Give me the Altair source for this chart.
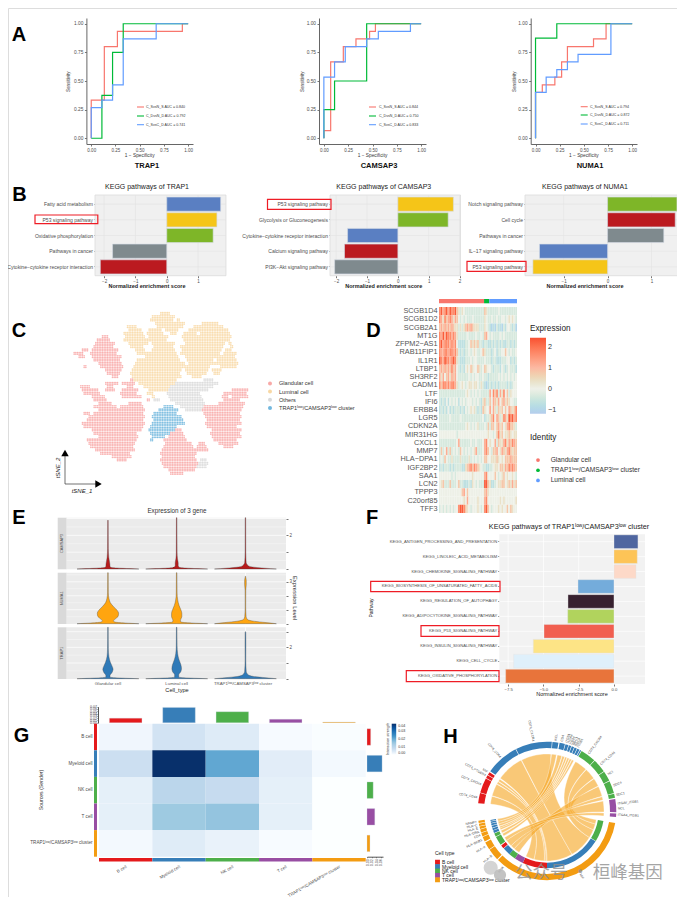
import math
import altair as alt
import pandas as pd

alt.data_transformers.disable_max_rows()

W, H = 669, 889
FONT = "Liberation Sans"
LOW = "TRAP1ˡᵒʷ/CAMSAP3ˡᵒʷ cluster"

# ---------- data ----------
ROC_COLORS = ["#f8766d", "#00ba38", "#619cff"]
ROC = {
    "TRAP1": {
        "C_SvsN_S": [(0,0),(0,.333),(.135,.333),(.135,.8),(.27,.8),(.27,.933),(.94,.933),(.94,1),(1,1)],
        "C_DvsN_D": [(0,0),(.11,0),(.11,.375),(.22,.375),(.22,.75),(.33,.75),(.33,1),(1,1)],
        "C_SvsC_D": [(0,0),(0,.267),(.11,.267),(.11,.333),(.22,.333),(.22,.467),(.33,.467),(.33,.867),(.67,.867),(.67,1),(1,1)],
    },
    "CAMSAP3": {
        "C_SvsN_S": [(0,0),(0,.067),(.07,.067),(.07,.667),(.2,.667),(.2,.8),(.33,.8),(.33,.867),(.47,.867),(.47,.933),(.53,.933),(.53,1),(1,1)],
        "C_DvsN_D": [(0,0),(0,.25),(.11,.25),(.11,.5),(.44,.5),(.44,1),(1,1)],
        "C_SvsC_D": [(0,0),(0,.533),(.11,.533),(.11,.667),(.22,.667),(.22,.8),(.44,.8),(.44,.867),(.56,.867),(.56,.933),(.89,.933),(.89,1),(1,1)],
    },
    "NUMA1": {
        "C_SvsN_S": [(0,0),(0,.4),(.07,.4),(.07,.467),(.2,.467),(.2,.533),(.27,.533),(.27,.667),(.33,.667),(.33,.8),(.6,.8),(.6,.867),(.73,.867),(.73,1),(1,1)],
        "C_DvsN_D": [(0,0),(0,.875),(.22,.875),(.22,1),(1,1)],
        "C_SvsC_D": [(0,0),(0,.4),(.11,.4),(.11,.533),(.22,.533),(.22,.6),(.33,.6),(.33,.667),(.44,.667),(.44,.733),(.78,.733),(.78,1),(1,1)],
    },
}
ROC_AUC = {"TRAP1": ["0.840", "0.792", "0.741"], "CAMSAP3": ["0.844", "0.750", "0.833"], "NUMA1": ["0.794", "0.872", "0.711"]}
ROC_BOX = {"TRAP1": (86.4, 193, 147, 69.3, 137, 146, [107, 116, 124.7]),
           "CAMSAP3": (319, 426, 379, 302.6, 369, 379, [107, 116, 124.7]),
           "NUMA1": (530.7, 637, 590, 514.5, 580.7, 590, [106.7, 115, 124])}

BC = {"blue": "#5a7fc2", "yellow": "#f5c518", "green": "#7eb628", "grey": "#7f8a8e", "red": "#bb1a20"}
KEGG_B = [
    ("KEGG pathways of TRAP1", 95, 226, [-2.29, 1.89], [-2, -1, 0, 1], 147,
     ["Fatty acid metabolism", "P53 signaling pathway", "Oxidative phosphorylation", "Pathways in cancer", "Cytokine−cytokine receptor interaction"],
     [1.72, 1.6, 1.48, -1.73, -2.12], ["blue", "yellow", "green", "grey", "red"], (35, 97.8, 215, 223.7)),
    ("KEGG pathways of CAMSAP3", 330, 460.5, [-2.2, 2.03], [-2, -1, 0, 1, 2], 383.8,
     ["P53 signaling pathway", "Glycolysis or Gluconeogenesis", "Cytokine−cytokine receptor interaction", "Calcium signaling pathway", "PI3K−Akt signaling pathway"],
     [1.8, 1.63, -1.63, -1.73, -2.05], ["yellow", "green", "blue", "red", "grey"], (267.5, 331, 199.3, 209.3)),
    ("KEGG pathways of NUMA1", 525, 684, [-1.88, 1.74], [-1, 0, 1], 585,
     ["Notch signaling pathway", "Cell cycle", "Pathways in cancer", "IL−17 signaling pathway", "P53 signaling pathway"],
     [1.58, 1.54, 1.28, -1.55, -1.7], ["green", "red", "grey", "blue", "yellow"], (467, 526, 261.3, 271.3)),
]

# tSNE occupancy: row -> column spans, per cluster
TSNE_COLORS = {"G": "#f8a9a7", "L": "#f8d8a4", "O": "#d9d9d9", "T": "#72b8de"}
TSNE = {
    "L": {2:[(27,29)],3:[(24,30)],4:[(24,30),(32,32)],5:[(25,33),(39,43)],6:[(17,19),(26,33),(37,45)],
          7:[(17,20),(23,26),(28,31),(35,46)],8:[(16,21),(23,27),(30,31),(34,37),(39,47)],
          9:[(16,21),(23,28),(33,47)],10:[(16,28),(34,47)],11:[(17,22),(24,30),(34,45),(47,47)],
          12:[(18,21),(25,30),(33,45),(48,48)],13:[(19,21),(24,30),(33,44),(46,47)],14:[(20,31),(33,44),(46,49)],
          15:[(22,31),(34,48)],16:[(20,32),(35,42),(44,49)],17:[(19,33),(35,44),(45,49)],18:[(19,33),(34,41),(45,49)],
          19:[(18,32),(34,40),(42,44)],20:[(18,32),(35,40),(43,44)],21:[(18,32),(36,38)],22:[(19,31)],
          23:[(20,30)],24:[(22,29)],25:[(23,28)],26:[(23,24)],27:[(24,24)]},
    "G": {9:[(9,10)],10:[(8,11)],11:[(7,12)],12:[(7,12)],13:[(3,4),(6,13)],14:[(1,3),(6,13)],15:[(2,3),(6,14)],
          16:[(7,14)],17:[(8,14)],18:[(4,4),(9,15)],19:[(10,14)],20:[(11,14)],21:[(12,13)],22:[(18,18)],
          23:[(10,13),(15,18)],24:[(3,5),(11,12),(17,18)],25:[(3,7),(10,12),(15,19),(48,52)],
          26:[(4,8),(15,19),(46,52)],27:[(6,9),(15,20),(45,46),(48,52)],28:[(7,10),(23,23),(46,50)],
          29:[(8,11),(17,20),(44,51)],30:[(7,13),(15,21),(40,51)],31:[(8,21),(39,50)],32:[(4,5),(7,21),(40,50)],
          33:[(5,21),(40,50)],34:[(5,21),(41,50)],35:[(3,21),(40,50)],36:[(4,21),(41,49)],37:[(6,20),(31,32),(42,50)],
          38:[(7,19),(30,33),(42,50)],39:[(8,19),(29,33),(42,50)],40:[(5,19),(28,34),(43,49)],
          41:[(5,18),(28,35),(38,39),(44,49)],42:[(6,18),(28,36),(38,40),(46,48)],43:[(7,18),(27,37),(38,40)],
          44:[(9,17),(27,37)],45:[(12,17),(27,36)],46:[(14,16),(27,37)],47:[(27,37)],48:[(28,37)],49:[(29,36)],50:[(30,33)]},
    "O": {22:[(40,42)],23:[(31,43)],24:[(30,42)],25:[(29,40)],26:[(29,38)],27:[(29,38)],28:[(25,26),(30,39)],
          29:[(31,39)],30:[(33,39)],31:[(34,38)],46:[(39,40)],47:[(38,40)],48:[(38,40)]},
    "T": {30:[(28,30)],31:[(26,31)],32:[(25,31)],33:[(24,32)],34:[(25,33)],35:[(24,33)],36:[(24,31)],37:[(23,30)],
          38:[(24,29)],39:[(24,27)],40:[(24,24)]},
}
TSNE_LEGEND = ["Glandular cell", "Luminal cell", "Others", LOW]

# heat map: one digit per column, levels in HEAT_LEVELS
HEAT_LEVELS = [-1.2, -1.0, -0.7, -0.35, -0.02, 0.35, 0.8, 1.2, 1.7, 2.3]
HEAT = {
    "SCGB1D4":  "8978979889 65354 33333333333 653 3333343333333333",
    "SCGB1D2":  "8758678757 64343 43334333333 543 3433433443454543",
    "SCGB2A1":  "6767676765 53535 67676555333 543 2121322132443231",
    "MT1G":     "8797988787 53333 34333343343 674 3433334343333333",
    "ZFPM2−AS1":"8978887878 42222 33465656332 332 2323232322332323",
    "RAB11FIP1":"8778878878 63232 33434543346 533 3234233446434334",
    "IL1R1":    "9879887898 53222 33343443333 433 3233222333442323",
    "LTBP1":    "6767676867 43232 45465446534 654 4323332432343332",
    "SH3RF2":   "7574675767 43333 33434344334 332 3333343434343434",
    "CADM1":    "8688787887 53454 34554554353 212 3232323333232344",
    "LTF":      "3333333333 33333 45434343433 333 7486837584635444",
    "IFI6":     "3232424343 42434 34443434325 633 6476574675654433",
    "ERBB4":    "2323242323 33232 43454532326 544 7475365646476568",
    "LGR5":     "3333334333 33433 33333333334 233 5684763587598978",
    "CDKN2A":   "3333333333 33333 45434345333 436 3664675645786653",
    "MIR31HG":  "4444444444 34444 44444444444 445 4434685645565455",
    "CXCL1":    "3333333333 47333 33343343334 784 5447365578576876",
    "MMP7":     "3634736343 43643 43434573334 786 4366745765786566",
    "HLA−DPA1": "3436433533 33533 33534343434 664 4555654546667666",
    "IGF2BP2":  "2323332323 33322 56786876543 322 3345546657687876",
    "SAA1":     "4444444343 44444 44445444444 784 4446434564544543",
    "LCN2":     "4563336333 46332 22325434333 996 5223455664565756",
    "TPPP3":    "4444444444 44467 46444444444 675 4444444444444444",
    "C20orf85": "4444444444 44445 47444445444 784 4444445454444445",
    "TFF3":     "3434343434 48998 65434445434 896 4344454544646544",
}
IDENTITY = ["Glandular cell", LOW, "Luminal cell"]
IDENTITY_COLORS = ["#f8766d", "#00ba38", "#619cff"]
IDENTITY_COUNTS = [(0, 26), (26, 29), (29, 45)]

# violins: (level, half width)
VIOLINS = {
    "CAMSAP3": {"color": "#b71c1c", "box": (517.7, 569.3), "dom": [0, 3.05], "ticks": [0, 1, 2, 3], "lab": 2, "v": [
        [(0,.45),(.04,.22),(.09,.05),(.15,.03),(.3,.028),(.45,.022),(.7,.012),(1.2,.006),(2.9,.004)],
        [(0,.45),(.04,.2),(.1,.04),(.2,.022),(.35,.022),(.6,.012),(1.0,.006),(3.05,.004)],
        [(0,.45),(.05,.28),(.12,.1),(.2,.04),(.4,.01),(1,.005),(3.05,.004)]]},
    "NUMA1": {"color": "#ffa50f", "box": (572.7, 624), "dom": [0, 3.65], "ticks": [0, 1, 2, 3], "lab": 3, "v": [
        [(0,.45),(.05,.25),(.12,.1),(.2,.08),(.35,.11),(.55,.15),(.75,.155),(.95,.135),(1.2,.085),(1.5,.035),(1.8,.015),(2.2,.006),(3.65,.004)],
        [(0,.45),(.05,.22),(.12,.06),(.25,.055),(.5,.075),(.75,.075),(1,.06),(1.3,.035),(1.7,.015),(2.2,.006),(3.65,.004)],
        [(0,.45),(.08,.3),(.18,.12),(.3,.03),(.5,.01),(1.2,.004),(2.4,.005),(2.8,.012),(3.1,.012),(3.3,.005),(3.4,.002)]]},
    "TRAP1": {"color": "#2f7ab8", "box": (627.3, 679), "dom": [0, 3.28], "ticks": [0, 1, 2, 3], "lab": 2, "v": [
        [(0,.45),(.04,.2),(.1,.03),(.2,.03),(.4,.06),(.6,.075),(.8,.06),(1.05,.035),(1.4,.014),(1.9,.006),(3.28,.004)],
        [(0,.45),(.04,.2),(.1,.03),(.25,.03),(.45,.06),(.65,.07),(.9,.06),(1.2,.035),(1.6,.014),(2.1,.006),(3.28,.004)],
        [(0,.45),(.06,.3),(.14,.12),(.25,.04),(.45,.012),(1.2,.005),(2.2,.006),(2.95,.005),(3.0,.002)]]},
}

F_PATH = ["KEGG_ANTIGEN_PROCESSING_AND_PRESENTATION", "KEGG_LINOLEIC_ACID_METABOLISM", "KEGG_CHEMOKINE_SIGNALING_PATHWAY",
          "KEGG_BIOSYNTHESIS_OF_UNSATURATED_FATTY_ACIDS", "KEGG_REGULATION_OF_AUTOPHAGY", "KEGG_ADIPOCYTOKINE_SIGNALING_PATHWAY",
          "KEGG_P53_SIGNALING_PATHWAY", "KEGG_INSULIN_SIGNALING_PATHWAY", "KEGG_CELL_CYCLE", "KEGG_OXIDATIVE_PHOSPHORYLATION"]
F_NES = [1.70, 1.65, 1.56, -2.55, -3.26, -3.28, -4.96, -5.72, -7.11, -7.68]
F_COL = ["#4f66a0", "#fdc457", "#fdd9c8", "#74acdb", "#37212f", "#b1d35d", "#f15f50", "#fde486", "#dff0fb", "#e8743b"]
F_BOX = [(370.7, 500, 581.3, 591.7), (421, 499, 625.7, 636.3), (406.3, 499, 670.7, 681.7)]

CELLS = ["B cell", "Myeloid cell", "NK cell", "T cell", LOW]
CELL_COL = ["#e41a1c", "#377eb8", "#4daf4a", "#984ea3", "#f39c12"]
STRENGTH = [[.0015, .006, .004, .0007, .0003],
            [.007, .04, .021, .0035, .001],
            [.003, .010, .008, .003, 0],
            [.003, .015, .016, .003, 0],
            [.001, .0038, .0025, .0005, 0]]
TOP_BARS = [.02, .067, .048, .015, .003]
RIGHT_BARS = [.016, .066, .027, .034, .013]
BLUE_STOPS = [0, .0005, .004, .008, .015, .02, .024, .03, .035, .04]
BLUE_COLS = ["#ffffff", "#f7fbff", "#deebf7", "#c6dbef", "#9ecae1", "#6baed6", "#4292c6", "#2171b5", "#08519c", "#08306b"]

# chord diagram, degrees clockwise from 12 o'clock
RING_OUT = [(276.5,285,0),(285.5,298,0),(298.5,301,0),(301.5,304,0),
            (305,333,1),(333.5,364,1),(364.5,369.5,1),(370.5,375,1),(375.5,378,1),(378.5,380.5,1),(381,383,1),(383.5,385.5,1),(386,388,1),(388.5,389.5,1),
            (30,43,2),(43.5,55,2),(55.5,64,2),(64.5,75,2),(75.5,79,2),(80,91,3),(92,95,3),
            (100,225,4),(226,236,4),(236.5,243,4),(244,248,4),(248.5,251.5,4),(252,254.5,4),(255,257,4),(257.5,259.5,4),(260,262,4)]
RING_IN = [(100,121.5,2),(122,180,1),(180,205,0),(205,214,3),(214,221,2),(221,229,1),(229.5,233,0),(234,243,2),(243.5,247,2),
           (247.5,250,1),(250.5,252.5,1),(253,255,1),(255.5,257.5,1),(258,259.5,1),(260,261,1)]
CHORDS = [(277,285,195,205),(285.5,298,183,195),(298.5,301,181,183),(301.5,304,180,181),(305,333,150,180),(333.5,364,122,150),
          (364.5,369.5,258,261),(370.5,375,255,258),(375.5,378,252.5,255),(378.5,380.5,250,252),(381,383,248,250),(383.5,385.5,244,247),(386,388,240,243),
          (30,43,112,122),(43.5,55,105,112),(55.5,64,100,105),(64.5,75,214,221),(75.5,79,221,226),(80,91,226,234),(92,95,234,238)]
H_LABELS = [(281,"CD74_CD44"),(292,"CD74_CXCR4"),(300,"CD74_PTGER4"),(303,"MIF"),(319,"CD74_CD44"),(349,"CD74_CXCR4"),(7,"NCL"),(12,"CD4"),
            (16,"ITGB1"),(18,"ITGA4"),(20,"CD44"),(22,"SDC1"),(24,"SDC4"),(26,"ITGB1"),(36,"CD74_CXCR4"),(49,"CD74_CD44"),(59,"NCL"),(69,"SDC4"),(77,"SDC1"),
            (84,"ITGAV_ITGB1"),(88,"NCL"),(93,"ITGA4_ITGB1"),(152,"MIF"),(218,"MDK"),(231,"HLA−B"),(240,"HLA−A"),(246,"HLA−DRB1"),(250,"CD4"),
            (253,"HLA−DRA"),(256,"HLA−E"),(258.5,"HLA−C"),(261,"NAMPT")]

# ---------- helpers (all positions in picture pixels; the page margin is taken off here) ----------
def px(v):
    return v - 8

def lin(dom, a, b):
    return alt.Scale(domain=dom, range=[px(a), px(b)], nice=False, zero=False)

def band(dom, a, b, inner=0.0, outer=0.0):
    return alt.Scale(type="band", domain=dom, range=[px(a), px(b)], paddingInner=inner, paddingOuter=outer)

def ax_left(x, **k):
    o = dict(orient="left", offset=-px(x), title=None, grid=False, labelFontSize=5, labelColor="#4d4d4d", tickSize=2, tickColor="#777", domain=False, labelPadding=1.5, labelOverlap=False, labelFlush=False)
    o.update(k); return alt.Axis(**o)

def ax_bottom(y, **k):
    o = dict(orient="bottom", offset=px(y) - H, title=None, grid=False, labelFontSize=4.5, labelColor="#4d4d4d", tickSize=2, tickColor="#777", domain=False, labelPadding=1, labelOverlap=False, labelFlush=False)
    o.update(k); return alt.Axis(**o)

def ax_right(x, **k):
    o = dict(orient="right", offset=px(x) - W, title=None, grid=False, labelFontSize=5, labelColor="#4d4d4d", tickSize=2, tickColor="#777", domain=False, labelPadding=1, labelOverlap=False, labelFlush=False)
    o.update(k); return alt.Axis(**o)

ONE = pd.DataFrame({"k": [0]})

def T(s, x, y, size=5, align="center", angle=0, color="#333333", weight="normal", style="normal", font=FONT, opacity=1):
    return alt.Chart(pd.DataFrame({"t": [s]})).mark_text(
        fontSize=size, align=align, baseline="middle", angle=angle % 360, color=color, fontWeight=weight,
        fontStyle=style, font=font, opacity=opacity
    ).encode(x=alt.value(px(x)), y=alt.value(px(y)), text="t:N")

def box(x0, x1, y0, y1, fill=None, stroke=None, sw=1.0):
    kw = {"strokeWidth": sw}
    kw["fill"] = fill if fill else "transparent"
    if stroke:
        kw["stroke"] = stroke
    return alt.Chart(ONE).mark_rect(**kw).encode(x=alt.value(px(x0)), x2=alt.value(px(x1)), y=alt.value(px(y0)), y2=alt.value(px(y1)))

def seg(x0, y0, x1, y1, color="#333", w=1.0):
    return alt.Chart(ONE).mark_rule(color=color, strokeWidth=w).encode(x=alt.value(px(x0)), x2=alt.value(px(x1)), y=alt.value(px(y0)), y2=alt.value(px(y1)))

def sym(x, y, shape, size, color):
    return alt.Chart(ONE).mark_point(shape=shape, size=size, filled=True, color=color, opacity=1).encode(x=alt.value(px(x)), y=alt.value(px(y)))

def key(items, colors, x_dot, x_text, y0, y1, fsize, dot, shape="circle", tcolor="#333333"):
    df = pd.DataFrame({"c": items})
    ys = alt.Scale(type="point", domain=items, range=[px(y0), px(y1)])
    dots = alt.Chart(df).mark_point(shape=shape, filled=True, size=dot, opacity=1).encode(
        x=alt.value(px(x_dot)), y=alt.Y("c:N", scale=ys, axis=None),
        color=alt.Color("c:N", scale=alt.Scale(domain=items, range=colors), legend=None))
    txt = alt.Chart(df).mark_text(fontSize=fsize, align="left", baseline="middle", color=tcolor, font=FONT).encode(
        x=alt.value(px(x_text)), y=alt.Y("c:N", scale=ys, axis=None), text="c:N")
    return [dots, txt]

layers = []

# ---------- A ----------
for gene, (xl, xr, tc, yl, lx, tx, ly) in ROC_BOX.items():
    rows = []
    for s, pts in ROC[gene].items():
        for i, (a, b) in enumerate(pts):
            rows.append({"s": s, "i": i, "x": a, "y": b})
    xs = lin([-0.05, 1.05], xl, xr)
    ys = lin([-0.05, 1.05], 144, 18)
    line = alt.Chart(pd.DataFrame(rows)).mark_line(strokeWidth=1.2, clip=False).encode(
        x=alt.X("x:Q", scale=xs, axis=ax_bottom(144, values=[0, .25, .5, .75, 1], format=".2f", domain=True, domainColor="#666")),
        y=alt.Y("y:Q", scale=ys, axis=ax_left(xl, values=[0, .25, .5, .75, 1], format=".2f", domain=True, domainColor="#666", labelFontSize=4.8)),
        color=alt.Color("s:N", scale=alt.Scale(domain=list(ROC[gene]), range=ROC_COLORS), legend=None),
        order=alt.Order("i:Q"))
    layers.append(line)
    layers.append(T("Sensitivity", yl, 81.7, 4.6, angle=-90))
    layers.append(T("1 − Specificity", (xl + xr) / 2, 156, 4.8))
    layers.append(T(gene, tc, 166, 7.5, weight="bold", color="#111"))
    for c, y, s, auc in zip(ROC_COLORS, ly, ROC[gene], ROC_AUC[gene]):
        layers.append(seg(lx, y, lx + 7, y, c, 1.1))
        layers.append(T(f"{s} AUC = {auc}", tx, y, 3.6, align="left"))

# ---------- B ----------
for title, xl, xr, dom, ticks, tc, cats, vals, cols, rb in KEGG_B:
    df = pd.DataFrame({"c": cats, "v": vals, "col": cols})
    xs = lin(dom, xl, xr)
    ys = band(cats, 196.3, 274.7, inner=0.1, outer=0.05)
    layers.append(box(xl, xr, 195, 275.7, fill="#f0f0f0", stroke="#d9d9d9", sw=0.7))
    grid_x = alt.Chart(pd.DataFrame({"t": ticks})).mark_rule(color="#e3e3e3", strokeWidth=0.6).encode(
        x=alt.X("t:Q", scale=xs, axis=None), y=alt.value(px(195)), y2=alt.value(px(275.7)))
    grid_y = alt.Chart(df).mark_rule(color="#e3e3e3", strokeWidth=0.6).encode(
        y=alt.Y("c:N", scale=ys, axis=None), x=alt.value(px(xl)), x2=alt.value(px(xr)))
    bars = alt.Chart(df).mark_bar(stroke="#d5dbe5", strokeWidth=0.6).encode(
        x=alt.X("v:Q", scale=xs, stack=None, axis=ax_bottom(275.7, values=ticks, format="d")),
        y=alt.Y("c:N", scale=ys, sort=None, axis=ax_left(xl, labelFontSize=5.05, tickSize=1)),
        color=alt.Color("col:N", scale=alt.Scale(domain=list(BC), range=list(BC.values())), legend=None))
    layers.extend([grid_x, grid_y, bars])
    layers.append(T(title, tc, 187, 7, color="#222"))
    layers.append(T("Normalized enrichment score", tc, 286, 5.5, color="#222", weight="bold"))
    layers.append(box(rb[0], rb[1], rb[2], rb[3], stroke="#ee1c25", sw=1.2))

# ---------- C ----------
rows = []
for cl, d in TSNE.items():
    for r, spans in d.items():
        for a, b in spans:
            for c in range(a, b + 1):
                for dc, dr in ((.25, .25), (.75, .25), (.25, .75), (.75, .75)):
                    rows.append({"cl": cl, "c": c + dc + (0.5 if r % 2 else 0), "r": r + dr})
layers.append(alt.Chart(pd.DataFrame(rows)).mark_circle(size=2.6, opacity=0.9).encode(
    x=alt.X("c:Q", scale=lin([0, 54], 70, 250), axis=None),
    y=alt.Y("r:Q", scale=lin([0, 55], 305, 488.3), axis=None),
    color=alt.Color("cl:N", scale=alt.Scale(domain=list(TSNE_COLORS), range=list(TSNE_COLORS.values())), legend=None)))
layers.append(seg(65, 455, 65, 484, "#333", 0.7))
layers.append(seg(65, 484, 96, 484, "#333", 0.7))
layers.append(sym(65, 453, "triangle-up", 55, "#000"))
layers.append(sym(98.5, 484, "triangle-right", 55, "#000"))
layers.append(T("tSNE_1", 82, 490.7, 6, style="italic", color="#222"))
layers.append(T("tSNE_2", 58, 468, 6, angle=-90, style="italic", color="#222"))
layers.extend(key(TSNE_LEGEND, [TSNE_COLORS[k] for k in "GLOT"], 270, 279, 379.3, 412, 5.6, 16))

# ---------- D ----------
genes = list(HEAT)
rows = []
for g, s in HEAT.items():
    for i, ch in enumerate(s.replace(" ", "")):
        rows.append({"g": g, "c": i, "v": HEAT_LEVELS[int(ch)]})
layers.append(alt.Chart(pd.DataFrame(rows)).mark_rect().encode(
    x=alt.X("c:O", scale=band(list(range(45)), 439, 517), axis=None),
    y=alt.Y("g:N", scale=band(genes, 307, 513), sort=None, axis=ax_left(437, labelFontSize=7.3, tickSize=0, labelPadding=0, labelColor="#555555")),
    color=alt.Color("v:Q", scale=alt.Scale(domain=[-1.2, 0, 1.0, 2.45], range=["#b5cdec", "#eef0e8", "#fcb9a3", "#f94f30"]),
                    legend=alt.Legend(orient="none", legendX=px(530), legendY=px(337.7), title=None, direction="vertical",
                                      gradientLength=76, gradientThickness=16, values=[-1, 0, 1, 2], format="d",
                                      labelFontSize=7.2, labelColor="#333", gradientStrokeWidth=0, tickCount=4))))
sb = pd.DataFrame({"a": [p[0] for p in IDENTITY_COUNTS], "b": [p[1] for p in IDENTITY_COUNTS], "c": IDENTITY})
layers.append(alt.Chart(sb).mark_rect().encode(
    x=alt.X("a:Q", scale=lin([0, 45], 439, 517), axis=None), x2="b:Q",
    y=alt.value(px(299)), y2=alt.value(px(303.3)),
    color=alt.Color("c:N", scale=alt.Scale(domain=IDENTITY, range=IDENTITY_COLORS), legend=None)))
layers.append(T("Expression", 530, 329, 8.2, align="left", color="#222"))
layers.append(T("Identity", 530, 438, 8.2, align="left", color="#222"))
layers.extend(key(IDENTITY, IDENTITY_COLORS, 538, 550.7, 455, 485.5, 6.6, 14))

# ---------- E ----------
xv = lin([0.4, 3.59], 66.7, 286)
for name, d in VIOLINS.items():
    y0, y1 = d["box"]
    ys = lin(d["dom"], y1 - 0.3, y0)
    layers.append(box(57.7, 66.7, y0, y1, fill="#d9d9d9"))
    layers.append(box(66.7, 286, y0, y1, fill="#ebebeb"))
    rows = []
    for k, v in enumerate(d["v"]):
        for i, (lv, hw) in enumerate(v):
            rows.append({"v": k, "i": i, "y": lv, "lo": k + 1 - hw, "hi": k + 1 + hw})
    minor = [t + .5 for t in d["ticks"] if t + .5 < d["dom"][1]]
    g1 = alt.Chart(pd.DataFrame({"t": [t for t in d["ticks"] if t > 0 and t < d["dom"][1]]})).mark_rule(color="white", strokeWidth=0.7).encode(
        y=alt.Y("t:Q", scale=ys, axis=None), x=alt.value(px(66.7)), x2=alt.value(px(286)))
    g2 = alt.Chart(pd.DataFrame({"t": minor})).mark_rule(color="white", strokeWidth=0.35).encode(
        y=alt.Y("t:Q", scale=ys, axis=None), x=alt.value(px(66.7)), x2=alt.value(px(286)))
    g3 = alt.Chart(pd.DataFrame({"t": [1, 2, 3]})).mark_rule(color="white", strokeWidth=0.7).encode(
        x=alt.X("t:Q", scale=xv, axis=None), y=alt.value(px(y0)), y2=alt.value(px(y1)))
    area = alt.Chart(pd.DataFrame(rows)).mark_area(orient="horizontal", color=d["color"], stroke="#444444", strokeWidth=0.35, interpolate="monotone").encode(
        x=alt.X("lo:Q", scale=xv, axis=None), x2="hi:Q",
        y=alt.Y("y:Q", scale=ys, axis=ax_right(286, values=d["ticks"], labelFontSize=4.5, labelExpr=f"datum.value=={d['lab']}?'{d['lab']}':''")),
        detail="v:N")
    layers.extend([g1, g2, g3, area])
    layers.append(T(name, 62.2, (y0 + y1) / 2, 4, angle=-90, color="#555"))
layers.append(T("Expression of 3 gene", 177, 511, 6.3, color="#333"))
layers.append(T("Expression Level", 295, 598, 5.8, angle=90, color="#222"))
layers.append(T("Glandular cell", 108, 683.7, 4.3, color="#555"))
layers.append(T("Luminal cell", 176.7, 683.7, 4.3, color="#555"))
layers.append(T(LOW, 243, 683.7, 4.3, color="#555"))
layers.append(T("Cell_type", 177, 690, 5.6, color="#222"))

# ---------- F ----------
df = pd.DataFrame({"p": F_PATH, "v": F_NES})
xs = lin([-8.13, 2.2], 499.3, 645)
ys = band(F_PATH, 534.3, 683.5, inner=0.09, outer=0.04)
xt = [-7.5, -5, -2.5, 0]
layers.append(box(499.3, 645, 534.3, 684, fill="#f2f2f2"))
gx = alt.Chart(pd.DataFrame({"t": xt})).mark_rule(color="white", strokeWidth=0.7).encode(
    x=alt.X("t:Q", scale=xs, axis=None), y=alt.value(px(534.3)), y2=alt.value(px(684)))
gy = alt.Chart(df).mark_rule(color="white", strokeWidth=0.7).encode(
    y=alt.Y("p:N", scale=ys, axis=None), x=alt.value(px(499.3)), x2=alt.value(px(645)))
fb = alt.Chart(df).mark_bar(stroke="#e4e4e4", strokeWidth=0.4).encode(
    x=alt.X("v:Q", scale=xs, stack=None, axis=ax_bottom(684, values=xt, format=".1f", labelFontSize=4.2)),
    y=alt.Y("p:N", scale=ys, sort=None, axis=ax_left(499.3, labelFontSize=4.15, labelPadding=1, tickSize=1.5)),
    color=alt.Color("p:N", scale=alt.Scale(domain=F_PATH, range=F_COL), legend=None))
layers.extend([gx, gy, fb])
for b in F_BOX:
    layers.append(box(b[0], b[1], b[2], b[3], stroke="#ee1c25", sw=1.2))
layers.append(T("KEGG pathways of " + LOW, 569, 526.7, 7.2, color="#222"))
layers.append(T("Normalized enrichment score", 572, 694, 5.5, color="#222"))
layers.append(T("Pathway", 370.7, 608, 5, angle=-90, color="#222"))

# ---------- G ----------
rows = [{"r": r, "c": c, "v": STRENGTH[i][j]} for i, r in enumerate(CELLS) for j, c in enumerate(CELLS)]
cx_band = band(CELLS, 99, 365.7)
cy_band = band(CELLS, 723.7, 856.7)
layers.append(alt.Chart(pd.DataFrame(rows)).mark_rect().encode(
    x=alt.X("c:N", scale=cx_band, sort=None, axis=ax_bottom(862, labelAngle=-30, labelAlign="right", labelBaseline="top", tickSize=0, labelPadding=2.5, labelFontSize=4.4)),
    y=alt.Y("r:N", scale=cy_band, sort=None, axis=ax_left(93.5, tickSize=0, labelFontSize=4.6)),
    color=alt.Color("v:Q", scale=alt.Scale(domain=BLUE_STOPS, range=BLUE_COLS),
                    legend=alt.Legend(orient="none", legendX=px(391.7), legendY=px(723.7), title=None, direction="vertical",
                                      gradientLength=31, gradientThickness=4.5, values=[0, .01, .02, .03, .04], format=".2f",
                                      labelFontSize=3.6, labelColor="#333", gradientStrokeWidth=0, tickCount=5))))
cellcol = alt.Scale(domain=CELLS, range=CELL_COL)
cd = pd.DataFrame({"c": CELLS, "t": TOP_BARS, "b": RIGHT_BARS})
layers.append(alt.Chart(cd).mark_rect().encode(
    y=alt.Y("c:N", scale=cy_band, sort=None, axis=None), x=alt.value(px(94)), x2=alt.value(px(97)),
    color=alt.Color("c:N", scale=cellcol, legend=None)))
layers.append(alt.Chart(cd).mark_rect().encode(
    x=alt.X("c:N", scale=cx_band, sort=None, axis=None), y=alt.value(px(858)), y2=alt.value(px(861.6)),
    color=alt.Color("c:N", scale=cellcol, legend=None)))
layers.append(alt.Chart(cd).mark_bar(stroke="#cfdbe8", strokeWidth=0.3).encode(
    x=alt.X("c:N", scale=band(CELLS, 99, 365.7, inner=0.39, outer=0.195), sort=None, axis=None),
    y=alt.Y("t:Q", scale=lin([0, .07], 722.7, 706.7), stack=None,
            axis=ax_left(98, values=[0, .01, .02, .03, .04, .05, .06, .07], labelFontSize=3.6, tickSize=1, format=".2f", domain=True, domainColor="#555", labelPadding=0.5)),
    color=alt.Color("c:N", scale=cellcol, legend=None)))
layers.append(alt.Chart(cd).mark_bar(stroke="#cfdbe8", strokeWidth=0.3).encode(
    y=alt.Y("c:N", scale=band(CELLS, 723.7, 856.7, inner=0.38, outer=0.19), sort=None, axis=None),
    x=alt.X("b:Q", scale=lin([0, .07], 367, 383), stack=None,
            axis=ax_bottom(856.7, values=[0, .02, .04, .06], labelFontSize=3.6, tickSize=1, format=".2f", domain=True, domainColor="#555", labelAngle=-90, labelAlign="right", labelBaseline="middle", labelPadding=1)),
    color=alt.Color("c:N", scale=cellcol, legend=None)))
layers.append(T("Sources (Sender)", 40.7, 790, 5.2, angle=-90, color="#333"))
layers.append(T("Interaction strength", 387.7, 739, 3.8, angle=-90, color="#333"))

# ---------- H ----------
CX, CY = 547, 811
TH = alt.Scale(domain=[0, 400], range=[0, 400 / 360 * 2 * math.pi])

def polar(a, r):
    t = math.radians(a)
    return (r * math.sin(t), -r * math.cos(t))

def ribbon(a1, a2, b1, b2, ra=57, rb=50):
    pts = []
    def arc(p, q, r):
        n = max(2, int(abs(q - p) / 2) + 2)
        for i in range(n):
            pts.append(polar(p + (q - p) * i / (n - 1), r))
    def bez(s, e):
        for i in range(1, 20):
            u = i / 20
            pts.append(((1 - u) ** 2 * s[0] + u ** 2 * e[0], (1 - u) ** 2 * s[1] + u ** 2 * e[1]))
    arc(a1, a2, ra)
    bez(polar(a2, ra), polar(b1, rb))
    arc(b1, b2, rb)
    bez(polar(b2, rb), polar(a1, ra))
    pts.append(pts[0])
    return {"type": "Feature", "properties": {}, "geometry": {"type": "Polygon", "coordinates": [[list(p) for p in pts]]}}

layers.append(alt.Chart(alt.Data(values=[ribbon(*c) for c in CHORDS])).mark_geoshape(
    fill="#f6a623", fillOpacity=0.62, stroke="#ffffff", strokeWidth=0.35
).project(type="identity", scale=1, translate=[px(CX), px(CY)]))

def ring(segs, r0, r1):
    df = pd.DataFrame([{"s": a, "e": b, "c": CELLS[k]} for a, b, k in segs])
    return alt.Chart(df).mark_arc(innerRadius=r0, outerRadius=r1).encode(
        x=alt.value(px(CX)), y=alt.value(px(CY)),
        theta=alt.Theta("s:Q", scale=TH, stack=None), theta2="e:Q",
        color=alt.Color("c:N", scale=cellcol, legend=None))

layers.append(ring(RING_OUT, 63, 69.3))
layers.append(ring(RING_IN, 51.7, 57.3))

def hlab(items, align):
    df = pd.DataFrame(items)
    return alt.Chart(df).mark_text(fontSize=3.3, align=align, baseline="middle", radius=71, color="#444", font=FONT).encode(
        x=alt.value(px(CX)), y=alt.value(px(CY)),
        theta=alt.Theta("a:Q", scale=TH, stack=None), angle=alt.Angle("r:Q", scale=None), text="t:N")

right = [{"a": a, "t": t, "r": (a - 90) % 360} for a, t in H_LABELS if a < 180]
left = [{"a": a, "t": t, "r": (a + 90) % 360} for a, t in H_LABELS if a >= 180]
layers.append(hlab(right, "left"))
layers.append(hlab(left, "right"))
layers.append(T("Cell type", 435, 853, 5, align="left", color="#222"))
layers.extend(key(CELLS, CELL_COL, 437.5, 442, 860, 882, 5, 24, shape="square", tcolor="#222"))
layers.append(alt.Chart(ONE).mark_circle(size=200, color="#cfcfcf", opacity=0.9).encode(x=alt.value(px(490.7)), y=alt.value(px(867.7))))
layers.append(alt.Chart(ONE).mark_circle(size=150, color="#bdbdbd", opacity=0.9).encode(x=alt.value(px(500)), y=alt.value(px(875))))
layers.append(T("公众号 · 桓峰基因", 515, 873, 17.5, align="left", color="#8f8f8f", font="Noto Sans CJK SC", opacity=0.8))

# ---------- panel letters ----------
for s, x, y in [("A", 19, 35), ("B", 19.5, 195), ("C", 19, 331), ("D", 373.5, 331), ("E", 19, 518), ("F", 372, 518), ("G", 21.5, 736), ("H", 450.5, 737)]:
    layers.append(T(s, x, y, 20, weight="bold", color="#000"))

chart = alt.layer(*layers).resolve_scale(
    x="independent", y="independent", color="independent", theta="independent"
).resolve_axis(x="independent", y="independent").resolve_legend(color="independent").properties(
    width=W, height=H, padding=0, autosize=alt.AutoSizeParams(type="none")
).configure_view(stroke=None).configure(font=FONT)

chart.save("out.html", embed_options={"renderer": "svg", "actions": False})
